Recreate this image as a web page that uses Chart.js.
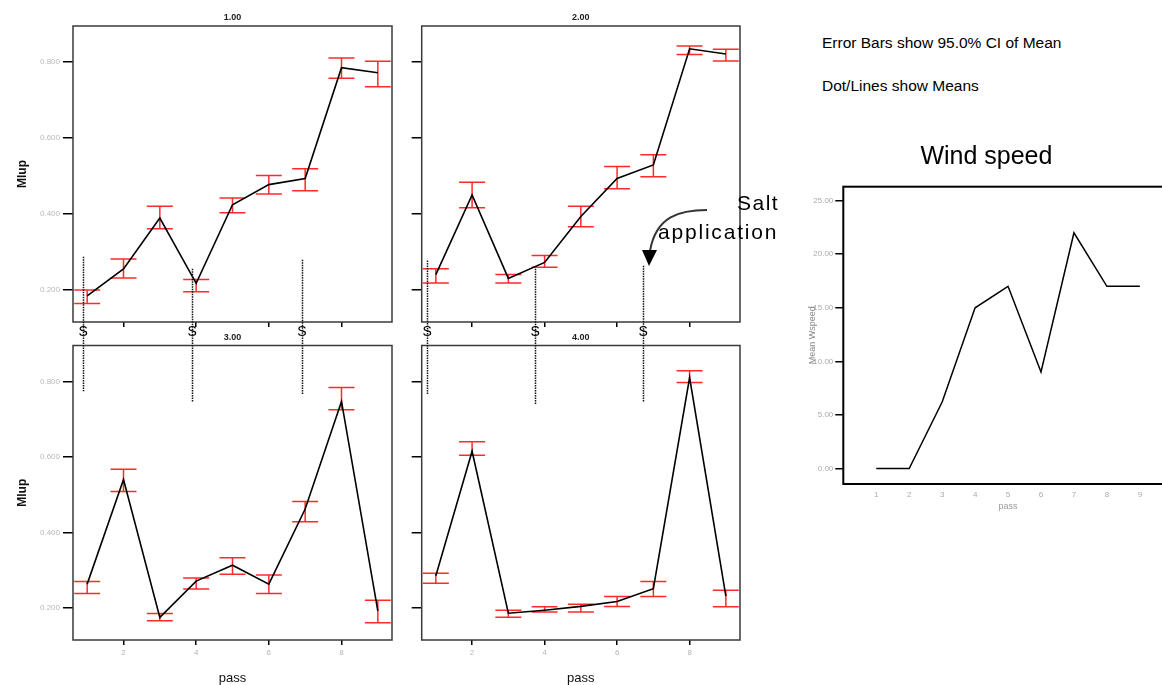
<!DOCTYPE html>
<html>
<head>
<meta charset="utf-8">
<script src="https://cdn.jsdelivr.net/npm/chart.js@4.4.1/dist/chart.umd.min.js"></script>
<style>
  html, body { margin: 0; padding: 0; background: #fff; }
  body { width: 1162px; height: 685px; position: relative; overflow: hidden; font-family: "Liberation Sans", Arial, sans-serif; }
  canvas { position: absolute; display: block; }
  .note { position: absolute; white-space: nowrap; color: #000; line-height: 1; }
</style>
</head>
<body>
<canvas id="p1" width="400" height="345" style="left:0;top:0"></canvas>
<canvas id="p2" width="345" height="345" style="left:400px;top:0"></canvas>
<canvas id="p3" width="400" height="360" style="left:0;top:325px"></canvas>
<canvas id="p4" width="345" height="360" style="left:400px;top:325px"></canvas>
<canvas id="wind" width="380" height="390" style="left:800px;top:130px"></canvas>

<div class="note" style="left:822px;top:35px;font-size:15.5px">Error Bars show 95.0% CI of Mean</div>
<div class="note" style="left:822px;top:78px;font-size:15.5px">Dot/Lines show Means</div>
<div class="note" style="left:737px;top:192px;font-size:21px;letter-spacing:1.5px">Salt</div>
<div class="note" style="left:658px;top:221px;font-size:21px;letter-spacing:1.8px">application</div>
<svg style="position:absolute;left:0;top:0" width="1162" height="685">
  <path d="M707 210 C680 210 656 216 650 251" fill="none" stroke="#333" stroke-width="2"/>
  <polygon points="642,250 657,250 649,266" fill="#000"/>
</svg>

<script>
// passes (x axis)
const passes = [1, 2, 3, 4, 5, 6, 7, 8, 9];
const xTicks = [2, 4, 6, 8];
const yTicks = [0.2, 0.4, 0.6, 0.8];
const windTicks = [0, 5, 10, 15, 20, 25];

// Mlup means and 95% CI, panel 1.00
const mean1 = [0.184, 0.255, 0.389, 0.217, 0.424, 0.477, 0.493, 0.785, 0.772];
const low1  = [0.164, 0.231, 0.361, 0.195, 0.403, 0.452, 0.461, 0.757, 0.735];
const high1 = [0.199, 0.281, 0.420, 0.227, 0.442, 0.501, 0.519, 0.811, 0.802];

// panel 2.00
const mean2 = [0.240, 0.450, 0.230, 0.272, 0.393, 0.493, 0.529, 0.835, 0.821];
const low2  = [0.218, 0.416, 0.218, 0.259, 0.366, 0.466, 0.498, 0.820, 0.803];
const high2 = [0.255, 0.483, 0.240, 0.290, 0.420, 0.525, 0.556, 0.842, 0.834];

// panel 3.00
const mean3 = [0.263, 0.540, 0.175, 0.271, 0.313, 0.263, 0.462, 0.747, 0.192];
const low3  = [0.238, 0.508, 0.166, 0.250, 0.289, 0.238, 0.428, 0.725, 0.161];
const high3 = [0.270, 0.567, 0.185, 0.279, 0.333, 0.287, 0.482, 0.784, 0.220];

// panel 4.00
const mean4 = [0.285, 0.615, 0.186, 0.194, 0.204, 0.217, 0.251, 0.810, 0.231];
const low4  = [0.265, 0.604, 0.175, 0.189, 0.189, 0.204, 0.230, 0.797, 0.203];
const high4 = [0.292, 0.640, 0.194, 0.203, 0.210, 0.230, 0.270, 0.828, 0.247];

// salt applications (S markers): pass position, top of line in upper panel, end in lower panel
const saltPass1 = [0.89, 3.89, 6.91];
const saltTop1  = [0.287, 0.255, 0.279];
const saltEnd1  = [0.774, 0.747, 0.765];
const saltPass2 = [0.76, 3.74, 6.72];
const saltTop2  = [0.277, 0.255, 0.263];
const saltEnd2  = [0.765, 0.738, 0.746];

// wind speed means
const windSpeed = [0, 0, 6.2, 15, 17, 9, 22, 17, 17];

const FONT = '"Liberation Sans", Arial, sans-serif';
Chart.defaults.font.family = FONT;

// error bars, frame and salt markers for one panel
function panelDeco(low, high, salt) {
  return {
    id: 'panelDeco',
    beforeDatasetsDraw(chart) {
      const { ctx, chartArea: a, scales: { x, y } } = chart;
      ctx.save();
      ctx.beginPath();
      ctx.rect(a.left, a.top, a.right - a.left, a.bottom - a.top);
      ctx.clip();
      ctx.strokeStyle = '#ff2b2b';
      ctx.lineWidth = 1.5;
      low.forEach((lo, i) => {
        const px = x.getPixelForValue(passes[i]);
        const y1 = y.getPixelForValue(lo);
        const y2 = y.getPixelForValue(high[i]);
        ctx.beginPath();
        ctx.moveTo(px, y1); ctx.lineTo(px, y2);
        ctx.moveTo(px - 13, y1); ctx.lineTo(px + 13, y1);
        ctx.moveTo(px - 13, y2); ctx.lineTo(px + 13, y2);
        ctx.stroke();
      });
      ctx.restore();
    },
    afterDraw(chart) {
      const { ctx, chartArea: a, scales: { x, y } } = chart;
      ctx.save();
      ctx.strokeStyle = '#3a3a3a';
      ctx.lineWidth = 1.5;
      ctx.strokeRect(a.left, a.top, a.right - a.left, a.bottom - a.top);

      // dotted salt lines, split between the upper and lower canvas
      ctx.strokeStyle = '#111';
      ctx.lineWidth = 1.5;
      ctx.setLineDash([1.5, 1]);
      salt.pass.forEach((p, i) => {
        const px = Math.round(x.getPixelForValue(p)) + 0.5;
        const yA = salt.upper ? y.getPixelForValue(salt.val[i]) : 10;
        const yB = salt.upper ? 335 : y.getPixelForValue(salt.val[i]);
        ctx.beginPath();
        ctx.moveTo(px, yA); ctx.lineTo(px, yB);
        ctx.stroke();
      });
      ctx.setLineDash([]);
      if (salt.upper) {
        ctx.fillStyle = '#000';
        ctx.font = '14px ' + FONT;
        ctx.textAlign = 'center';
        ctx.textBaseline = 'middle';
        salt.pass.forEach(p => ctx.fillText('S', x.getPixelForValue(p), 332));
      }
      ctx.restore();
    }
  };
}

function panelChart(id, title, mean, low, high, o) {
  return new Chart(document.getElementById(id), {
    type: 'line',
    data: {
      datasets: [{
        data: passes.map((p, i) => ({ x: p, y: mean[i] })),
        borderColor: '#000',
        borderWidth: 1.6,
        pointRadius: 0,
        tension: 0
      }]
    },
    options: {
      responsive: false,
      animation: false,
      devicePixelRatio: 1,
      layout: { padding: { left: 0, right: o.padRight, top: 0, bottom: 0 } },
      plugins: {
        legend: { display: false },
        tooltip: { enabled: false },
        title: {
          display: true, text: title, fullSize: false, color: '#222',
          font: { size: 9, weight: 'bold', lineHeight: 1.2 },
          padding: { top: o.titleTop, bottom: o.titleBottom }
        }
      },
      scales: {
        x: {
          type: 'linear', min: 0.61, max: 9.39,
          afterBuildTicks: s => { s.ticks = xTicks.map(v => ({ value: v })); },
          afterFit: s => { s.height = o.xHeight; },
          grid: { drawOnChartArea: false, tickLength: 5, color: '#000', lineWidth: 1.5 },
          border: { display: false },
          ticks: {
            color: '#b5b5b5', font: { size: 8 }, padding: 3, maxRotation: 0,
            callback: v => o.bottom ? String(v) : ''
          },
          title: {
            display: o.bottom, text: 'pass', color: '#111',
            font: { size: 13, lineHeight: 1 }, padding: { top: 0, bottom: 0 }
          }
        },
        y: {
          min: 0.115, max: 0.895,
          afterBuildTicks: s => { s.ticks = yTicks.map(v => ({ value: v })); },
          afterFit: s => { s.width = o.yWidth; },
          grid: { drawOnChartArea: false, tickLength: 10, color: '#000', lineWidth: 1.5 },
          border: { display: false },
          ticks: {
            color: '#b8b8b8', font: { size: 8 }, padding: 3,
            callback: v => o.left ? v.toFixed(3) : ''
          },
          title: {
            display: o.left, text: 'Mlup', color: '#111',
            font: { size: 12, weight: 'bold' }, padding: { top: 15, bottom: 0 }
          }
        }
      }
    },
    plugins: [panelDeco(low, high, o.salt)]
  });
}

panelChart('p1', '1.00', mean1, low1, high1, {
  padRight: 8, titleTop: 12.6, titleBottom: 2.6, xHeight: 23, yWidth: 73, left: true, bottom: false,
  salt: { upper: true, pass: saltPass1, val: saltTop1 }
});
panelChart('p2', '2.00', mean2, low2, high2, {
  padRight: 5, titleTop: 12.6, titleBottom: 2.6, xHeight: 23, yWidth: 21.7, left: false, bottom: false,
  salt: { upper: true, pass: saltPass2, val: saltTop2 }
});
panelChart('p3', '3.00', mean3, low3, high3, {
  padRight: 8, titleTop: 7.6, titleBottom: 2.1, xHeight: 45, yWidth: 73, left: true, bottom: true,
  salt: { upper: false, pass: saltPass1, val: saltEnd1 }
});
panelChart('p4', '4.00', mean4, low4, high4, {
  padRight: 5, titleTop: 7.6, titleBottom: 2.1, xHeight: 45, yWidth: 21.7, left: false, bottom: true,
  salt: { upper: false, pass: saltPass2, val: saltEnd2 }
});

// wind speed chart
new Chart(document.getElementById('wind'), {
  type: 'line',
  data: {
    datasets: [{
      data: passes.map((p, i) => ({ x: p, y: windSpeed[i] })),
      borderColor: '#000',
      borderWidth: 1.5,
      pointRadius: 0,
      tension: 0
    }]
  },
  options: {
    responsive: false,
    animation: false,
    devicePixelRatio: 1,
    layout: { padding: { left: 0, right: 7.2, top: 0, bottom: 0 } },
    plugins: {
      legend: { display: false },
      tooltip: { enabled: false },
      title: {
        display: true, text: 'Wind speed', color: '#000',
        font: { size: 25, weight: 'normal', lineHeight: 1.2 },
        padding: { top: 12, bottom: 14.7 }
      }
    },
    scales: {
      x: {
        type: 'linear', min: 0, max: 10,
        afterBuildTicks: s => { s.ticks = passes.map(v => ({ value: v })); },
        afterFit: s => { s.height = 36; },
        grid: { drawOnChartArea: false, drawTicks: false },
        border: { display: false },
        ticks: { color: '#aaa', font: { size: 8 }, padding: 6, maxRotation: 0 },
        title: { display: true, text: 'pass', color: '#999', font: { size: 9 }, padding: { top: 0, bottom: 7.6 } }
      },
      y: {
        min: -1.45, max: 26.3,
        afterBuildTicks: s => { s.ticks = windTicks.map(v => ({ value: v })); },
        afterFit: s => { s.width = 43.3; },
        grid: { drawOnChartArea: false, tickLength: 8, color: '#000', lineWidth: 1.5 },
        border: { display: false },
        ticks: { color: '#aaa', font: { size: 8 }, padding: 2, callback: v => v.toFixed(2) },
        title: { display: true, text: 'Mean Wspeed', color: '#888', font: { size: 9 }, padding: { top: 7.5, bottom: 0 } }
      }
    }
  },
  plugins: [{
    id: 'windFrame',
    afterDraw(chart) {
      const { ctx, chartArea: a } = chart;
      ctx.save();
      ctx.strokeStyle = '#000';
      ctx.lineWidth = 2;
      ctx.strokeRect(a.left, a.top, a.right - a.left, a.bottom - a.top);
      ctx.restore();
    }
  }]
});
</script>
</body>
</html>
